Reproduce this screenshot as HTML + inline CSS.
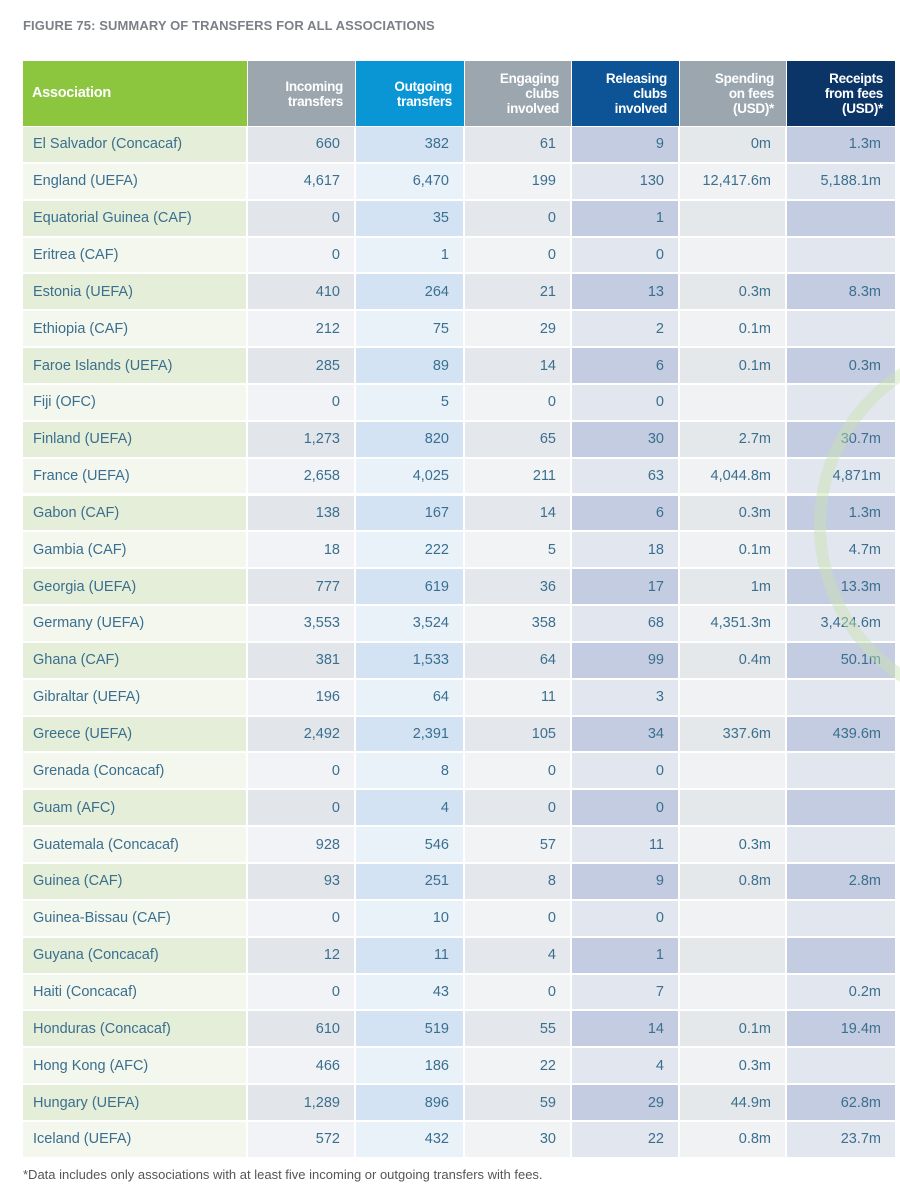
<!DOCTYPE html>
<html><head><meta charset="utf-8"><style>
body{margin:0;width:900px;height:1200px;background:#fff;font-family:"Liberation Sans",sans-serif;position:relative;overflow:hidden}
.t{position:absolute;left:23px;top:18px;font-size:13px;font-weight:bold;color:#7b8087;letter-spacing:0.1px}
.c{position:absolute;box-sizing:border-box;font-size:14.5px;color:#3a6f8f;display:flex;align-items:center;justify-content:flex-end;padding-right:14px;white-space:nowrap}
.c.a{justify-content:flex-start;padding-left:10px;padding-right:0}
.h{position:absolute;box-sizing:border-box;color:#fff;font-weight:bold;font-size:13.5px;line-height:15px;text-align:right;padding-right:12px;display:flex;align-items:center;justify-content:flex-end;letter-spacing:-0.3px}
.f{position:absolute;left:23px;top:1167px;font-size:13px;color:#555}
</style></head><body>
<div class="t">FIGURE 75: SUMMARY OF TRANSFERS FOR ALL ASSOCIATIONS</div>
<div id="tbl"></div>
<svg style="position:absolute;left:0;top:0;pointer-events:none" width="900" height="1200"><circle cx="1000" cy="525" r="180" fill="none" stroke="#c9e2b0" stroke-width="12" opacity="0.45"/></svg>
<div class="f">*Data includes only associations with at least five incoming or outgoing transfers with fees.</div>
<script>
const associations=["El Salvador (Concacaf)","England (UEFA)","Equatorial Guinea (CAF)","Eritrea (CAF)","Estonia (UEFA)","Ethiopia (CAF)","Faroe Islands (UEFA)","Fiji (OFC)","Finland (UEFA)","France (UEFA)","Gabon (CAF)","Gambia (CAF)","Georgia (UEFA)","Germany (UEFA)","Ghana (CAF)","Gibraltar (UEFA)","Greece (UEFA)","Grenada (Concacaf)","Guam (AFC)","Guatemala (Concacaf)","Guinea (CAF)","Guinea-Bissau (CAF)","Guyana (Concacaf)","Haiti (Concacaf)","Honduras (Concacaf)","Hong Kong (AFC)","Hungary (UEFA)","Iceland (UEFA)"];
const incoming=["660","4,617","0","0","410","212","285","0","1,273","2,658","138","18","777","3,553","381","196","2,492","0","0","928","93","0","12","0","610","466","1,289","572"];
const outgoing=["382","6,470","35","1","264","75","89","5","820","4,025","167","222","619","3,524","1,533","64","2,391","8","4","546","251","10","11","43","519","186","896","432"];
const engaging=["61","199","0","0","21","29","14","0","65","211","14","5","36","358","64","11","105","0","0","57","8","0","4","0","55","22","59","30"];
const releasing=["9","130","1","0","13","2","6","0","30","63","6","18","17","68","99","3","34","0","0","11","9","0","1","7","14","4","29","22"];
const spending=["0m","12,417.6m","","","0.3m","0.1m","0.1m","","2.7m","4,044.8m","0.3m","0.1m","1m","4,351.3m","0.4m","","337.6m","","","0.3m","0.8m","","","","0.1m","0.3m","44.9m","0.8m"];
const receipts=["1.3m","5,188.1m","","","8.3m","","0.3m","","30.7m","4,871m","1.3m","4.7m","13.3m","3,424.6m","50.1m","","439.6m","","","","2.8m","","","0.2m","19.4m","","62.8m","23.7m"];
const headers=["Association","Incoming<br>transfers","Outgoing<br>transfers","Engaging<br>clubs<br>involved","Releasing<br>clubs<br>involved","Spending<br>on fees<br>(USD)*","Receipts<br>from fees<br>(USD)*"];
const cols=[23,248,356,465,572,680,787,895];
const hdrBg=["#8cc63f","#9ba6af","#0a95d5","#9ba6af","#0c5496","#9ba6af","#0c3567"];
const oddBg=["#e5eed8","#e2e6eb","#d4e3f3","#e4e7eb","#c3cce0","#e5e8eb","#c3cce0"];
const evenBg=["#f3f7ee","#f1f3f6","#e9f1f9","#f1f3f5","#e2e6ef","#f1f2f4","#e2e6ef"];
const colNames=["association","incoming","outgoing","engaging","releasing","spending","receipts"];
const data=[associations,incoming,outgoing,engaging,releasing,spending,receipts];
const tbl=document.getElementById('tbl');
for(let j=0;j<7;j++){
  const h=document.createElement('div');h.className='h';
  
  
  h.style.left=cols[j]+'px';h.style.top='61px';h.style.width=(cols[j+1]-cols[j]-(j<6?1:0))+'px';h.style.height='65px';
  h.style.background=hdrBg[j];h.innerHTML=headers[j];
  if(j==0){h.style.justifyContent='flex-start';h.style.paddingLeft='9px';h.style.fontSize='14.5px';}
  tbl.appendChild(h);
}
const top0=127,rh=36.85;
for(let i=0;i<associations.length;i++){
  for(let j=0;j<7;j++){
    const c=document.createElement('div');c.className='c'+(j==0?' a':'');
    
    
    const y=top0+i*rh;
    c.style.left=cols[j]+'px';c.style.top=y+'px';c.style.width=(cols[j+1]-cols[j]-(j<6?2:0))+'px';c.style.height=(rh-2)+'px';
    c.style.background=(i%2==0?oddBg:evenBg)[j];
    c.textContent=data[j][i];
    tbl.appendChild(c);
  }
}
</script>
</body></html>
